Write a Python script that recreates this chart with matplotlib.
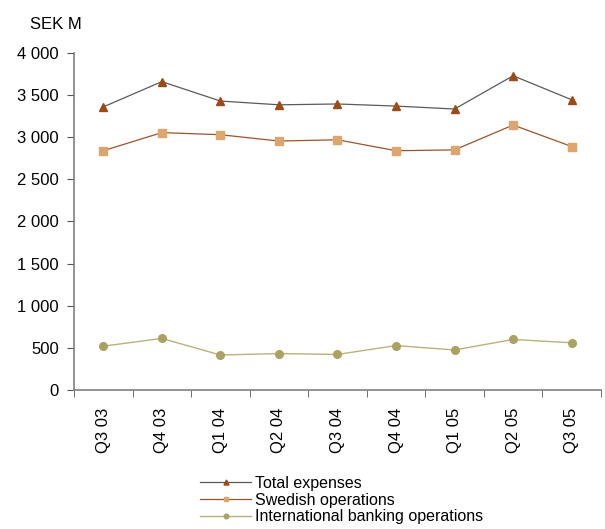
import matplotlib.pyplot as plt
import numpy as np
from matplotlib.ticker import FuncFormatter

plt.rcParams['font.family'] = ['Liberation Sans', 'DejaVu Sans']

quarters = ['Q3 03', 'Q4 03', 'Q1 04', 'Q2 04', 'Q3 04', 'Q4 04', 'Q1 05', 'Q2 05', 'Q3 05']
total = [3360, 3660, 3430, 3385, 3395, 3370, 3335, 3730, 3445]
swedish = [2840, 3055, 3030, 2955, 2970, 2840, 2850, 3145, 2890]
international = [520, 612, 415, 432, 422, 527, 475, 600, 560]

fig = plt.figure(figsize=(6.05, 5.29), dpi=100)
ax = fig.add_axes([0.1223, 0.2628, 0.871, 0.637])

x = np.arange(len(quarters))
ax.plot(x, total, color='#5a5a5a', lw=0.9, marker='^', ms=6,
        mfc='#9c4a16', mec='#9c4a16', label='Total expenses')
ax.plot(x, swedish, color='#a0522d', lw=0.9, marker='s', ms=5.5,
        mfc='#dfa56e', mec='#dfa56e', label='Swedish operations')
ax.plot(x, international, color='#b9b27c', lw=1.0, marker='o', ms=5.5,
        mfc='#aaa263', mec='#aaa263', label='International banking operations')

ax.set_xlim(-0.5, len(quarters) - 0.5)
ax.set_ylim(0, 4000)
ax.set_yticks(range(0, 4001, 500))
ax.yaxis.set_major_formatter(FuncFormatter(lambda v, p: f'{int(v):,}'.replace(',', ' ')))

ax.set_xticks(x)
ax.set_xticklabels(quarters, rotation=90)
ax.set_xticks(np.arange(-0.5, len(quarters)), minor=True)
ax.tick_params(axis='x', which='major', length=0, pad=13, labelsize=12)
ax.tick_params(axis='x', which='minor', length=5, color='#555555', direction='out')
ax.tick_params(axis='y', length=5, color='#555555', labelsize=12, pad=6)

for s in ['top', 'right']:
    ax.spines[s].set_visible(False)
for s in ['left', 'bottom']:
    ax.spines[s].set_color('#808080')
    ax.spines[s].set_linewidth(1.2)

fig.text(0.05, 0.953, 'SEK M', fontsize=12, va='center')

fig.legend(loc='upper left', bbox_to_anchor=(0.318, 0.116), frameon=False,
           fontsize=11.5, handlelength=3.2, handletextpad=0.2, labelspacing=0.12,
           borderpad=0, markerscale=0.6)

fig.savefig('out.png', dpi=100)
